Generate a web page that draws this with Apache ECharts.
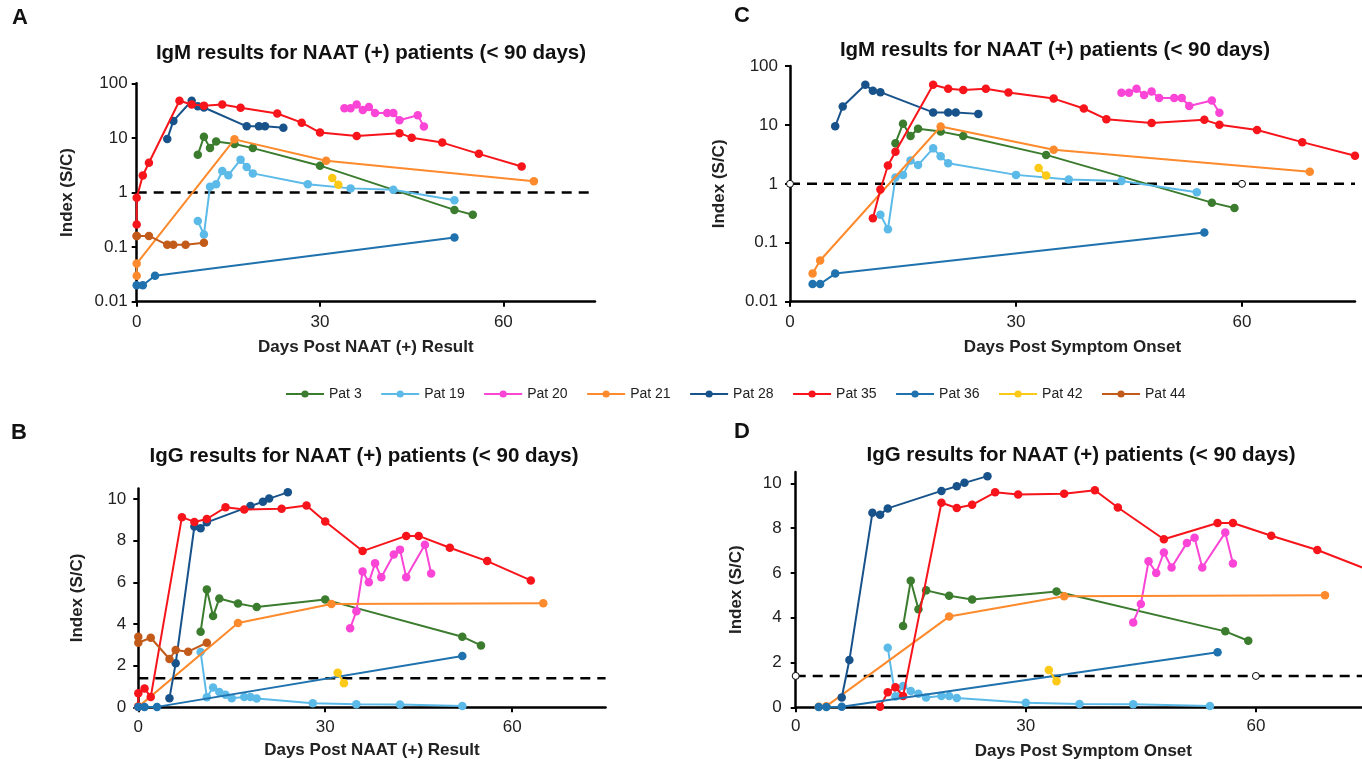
<!DOCTYPE html>
<html>
<head>
<meta charset="utf-8">
<script src="https://cdn.jsdelivr.net/npm/echarts@6/dist/echarts.min.js"></script>
<style>
  html, body { margin: 0; padding: 0; background: #fff; }
  #main { width: 1362px; height: 767px; }
</style>
</head>
<body>
<div id="main"></div>
<script>
// patients shown in the legend
var patNames = ['Pat 3', 'Pat 19', 'Pat 20', 'Pat 21', 'Pat 28', 'Pat 35', 'Pat 36', 'Pat 42', 'Pat 44'];
var patColors = ['#3b7c2e', '#5cbae8', '#fa45d6', '#fd8a2c', '#18528a', '#f7141a', '#1f72ad', '#fcc916', '#c25a1a'];

// days post NAAT (+) result / days post symptom onset / IgM index / IgG index
var naat3 = [10, 11, 12, 13, 16, 19, 30, 52, 55];
var onset3 = [14, 15, 16, 17, 20, 23, 34, 56, 59];
var igm3 = [4.9, 10.5, 6.5, 8.6, 7.7, 6.5, 3.1, 0.48, 0.39];
var igg3 = [3.63, 5.65, 4.38, 5.22, 4.98, 4.81, 5.17, 3.39, 2.97];

var naat19 = [10, 11, 12, 13, 14, 15, 17, 18, 19, 28, 35, 42, 52];
var onset19 = [12, 13, 14, 15, 16, 17, 19, 20, 21, 30, 37, 44, 54];
var igm19 = [0.3, 0.17, 1.28, 1.42, 2.48, 2.08, 4.0, 2.93, 2.24, 1.42, 1.19, 1.12, 0.72];
var igg19 = [2.66, 0.48, 0.95, 0.73, 0.6, 0.44, 0.5, 0.5, 0.42, 0.2, 0.15, 0.14, 0.06];

var naat20 = [34, 35, 36, 37, 38, 39, 41, 42, 43, 46, 47];
var onset20 = [44, 45, 46, 47, 48, 49, 51, 52, 53, 56, 57];
var igm20 = [35, 35, 41, 32.3, 36.8, 28.6, 28.6, 28.6, 21, 26, 16.1];
var igg20 = [3.79, 4.61, 6.52, 6.0, 6.91, 6.24, 7.34, 7.57, 6.24, 7.8, 6.42];

var naat21 = [0, 0, 16, 31, 65];
var onset21 = [3, 4, 20, 35, 69];
var igm21 = [0.03, 0.05, 9.4, 3.8, 1.6];
var igg21 = [0.02, 0.05, 4.05, 4.96, 5.0];

var naat28 = [5, 6, 9, 10, 11, 18, 20, 21, 24];
var onset28 = [6, 7, 10, 11, 12, 19, 21, 22, 25];
var igm28 = [9.5, 20.5, 48, 38, 36, 16.3, 16.3, 16.3, 15.4];
var igg28 = [0.44, 2.11, 8.68, 8.6, 8.88, 9.66, 9.87, 10.02, 10.32];

var naat35 = [0, 0, 1, 2, 7, 9, 11, 14, 17, 23, 27, 30, 36, 43, 45, 50, 56, 63];
var onset35 = [11, 12, 13, 14, 19, 21, 23, 26, 29, 35, 39, 42, 48, 55, 57, 62, 68, 75];
var igm35 = [0.26, 0.8, 2.05, 3.5, 48, 41, 39, 41, 35.5, 28, 19, 12.5, 10.8, 12.2, 10.1, 8.2, 5.1, 3.0];
var igg35 = [0.03, 0.67, 0.9, 0.5, 9.13, 8.9, 9.04, 9.6, 9.5, 9.53, 9.69, 8.92, 7.5, 8.23, 8.23, 7.66, 7.02, 6.09];

var naat36 = [0, 1, 3, 52];
var onset36 = [3, 4, 6, 55];
var igm36 = [0.02, 0.02, 0.03, 0.15];
var igg36 = [0.01, 0.01, 0.02, 2.46];

var naat42 = [32, 33];
var onset42 = [33, 34];
var igm42 = [1.85, 1.38];
var igg42 = [1.66, 1.16];

var naat44 = [0, 0, 2, 5, 6, 8, 11];
var onset44 = null; // no symptom onset date
var igm44 = [0.16, 0.16, 0.16, 0.11, 0.11, 0.11, 0.12];
var igg44 = [3.39, 3.1, 3.34, 2.32, 2.75, 2.67, 3.1];

// cutoffs (dashed lines)
var igmCutoff = 1;
var iggCutoff = 1.4;

var xTicks = [0, 30, 60];
var igmTicks = [0.01, 0.1, 1, 10, 100];
var iggTicks = [0, 2, 4, 6, 8, 10];

var allNaat = [naat3, naat19, naat20, naat21, naat28, naat35, naat36, naat42, naat44];
var allOnset = [onset3, onset19, onset20, onset21, onset28, onset35, onset36, onset42, onset44];
var allIgm = [igm3, igm19, igm20, igm21, igm28, igm35, igm36, igm42, igm44];
var allIgg = [igg3, igg19, igg20, igg21, igg28, igg35, igg36, igg42, igg44];

var FONT = 'Liberation Sans, Arial, sans-serif';

var chart = echarts.init(document.getElementById('main'));

function zip(days, vals) {
    var out = [];
    for (var i = 0; i < days.length; i++) {
        out.push([days[i], vals[i]]);
    }
    return out;
}

function fmtNum(v) {
    return String(parseFloat(Number(v).toPrecision(6)));
}

/* panels: 0 = A, 1 = C, 2 = B, 3 = D */
var panels = [
    { grid: { left: 136.7, top: 83.3, width: 458.3, height: 218.4 }, days: allNaat, vals: allIgm, log: true,
      xName: 'Days Post NAAT (+) Result', xGap: 37, xMargin: 12, yGap: 61, yMargin: 9, cut: igmCutoff, ends: false },
    { grid: { left: 790, top: 66, width: 565, height: 235.7 }, days: allOnset, vals: allIgm, log: true,
      xName: 'Days Post Symptom Onset', xGap: 37, xMargin: 12, yGap: 62, yMargin: 12, cut: igmCutoff, ends: true },
    { grid: { left: 138.3, top: 488.6, width: 467.3, height: 218.7 }, days: allNaat, vals: allIgg, log: false,
      xName: 'Days Post NAAT (+) Result', xGap: 35, xMargin: 12, yGap: 52, yMargin: 12, cut: iggCutoff, ends: false },
    { grid: { left: 795.7, top: 472.1, width: 575.3, height: 235.2 }, days: allOnset, vals: allIgg, log: false,
      xName: 'Days Post Symptom Onset', xGap: 36, xMargin: 11, yGap: 51, yMargin: 14, cut: iggCutoff, ends: true }
];

var grids = [], xAxes = [], yAxes = [], series = [];
var axisLine = { show: true, onZero: false, lineStyle: { color: '#000', width: 2.5 } };

panels.forEach(function (p, gi) {
    grids.push({ left: p.grid.left, top: p.grid.top, width: p.grid.width, height: p.grid.height, containLabel: false, outerBoundsMode: 'none' });
    xAxes.push({
        gridIndex: gi, type: 'value', min: 0, max: 75, interval: 30,
        axisLine: axisLine, axisTick: { show: true, length: 5, lineStyle: { color: '#000', width: 2 }, customValues: xTicks },
        splitLine: { show: false },
        axisLabel: { fontSize: 17, color: '#222', fontFamily: FONT, margin: p.xMargin, customValues: xTicks,
            formatter: function (v) { return v % 30 === 0 ? String(v) : ''; } },
        name: p.xName, nameLocation: 'middle', nameGap: p.xGap,
        nameTextStyle: { fontSize: 17, fontWeight: 'bold', color: '#222', fontFamily: FONT }
    });
    var y = {
        gridIndex: gi,
        axisLine: axisLine,
        splitLine: { show: false },
        axisLabel: { fontSize: 17, color: '#222', fontFamily: FONT, margin: p.yMargin, formatter: fmtNum },
        name: 'Index (S/C)', nameLocation: 'middle', nameGap: p.yGap, nameRotate: 90,
        nameTextStyle: { fontSize: 17, fontWeight: 'bold', color: '#222', fontFamily: FONT }
    };
    if (p.log) {
        y.type = 'log'; y.logBase = 10; y.min = 0.01; y.max = 100;
        y.axisLabel.customValues = igmTicks;
        y.axisTick = { show: true, length: 5, lineStyle: { color: '#000', width: 2 }, customValues: igmTicks };
    } else {
        y.type = 'value'; y.min = 0; y.max = 10.5; y.interval = 2;
        y.axisLabel.customValues = iggTicks;
        y.axisTick = { show: true, length: 5, lineStyle: { color: '#000', width: 2 }, customValues: iggTicks };
    }
    yAxes.push(y);

    // dashed cutoff line
    var cutData = [
        { value: [0, p.cut] },
        { value: [60, p.cut] },
        { value: [75, p.cut], symbol: 'none' }
    ];
    series.push({
        name: 'cutoff' + gi, type: 'line', xAxisIndex: gi, yAxisIndex: gi,
        data: cutData, silent: true, z: 1,
        showSymbol: p.ends, symbol: 'circle', symbolSize: 7,
        itemStyle: { color: '#fff', borderColor: '#000', borderWidth: 1 },
        lineStyle: { color: '#000', width: 2.5, type: [10, 7] }
    });

    patNames.forEach(function (name, k) {
        if (!p.days[k]) return;
        series.push({
            name: name, type: 'line', xAxisIndex: gi, yAxisIndex: gi,
            data: zip(p.days[k], p.vals[k]),
            symbol: 'circle', symbolSize: 8.5, showAllSymbol: true,
            itemStyle: { color: patColors[k] },
            lineStyle: { color: patColors[k], width: 2 },
            z: 2 + k
        });
    });
});

var titleStyle = { fontSize: 20.5, fontWeight: 'bold', color: '#111', fontFamily: FONT };
var letterStyle = { fontSize: 22, fontWeight: 'bold', color: '#111', fontFamily: FONT };

var option = {
    backgroundColor: '#fff',
    animation: false,
    title: [
        { text: 'IgM results for NAAT (+) patients (< 90 days)', left: 371, top: 43, textAlign: 'center', padding: 0, textStyle: titleStyle },
        { text: 'IgM results for NAAT (+) patients (< 90 days)', left: 1055, top: 40, textAlign: 'center', padding: 0, textStyle: titleStyle },
        { text: 'IgG results for NAAT (+) patients (< 90 days)', left: 364, top: 446, textAlign: 'center', padding: 0, textStyle: titleStyle },
        { text: 'IgG results for NAAT (+) patients (< 90 days)', left: 1081, top: 445, textAlign: 'center', padding: 0, textStyle: titleStyle },
        { text: 'A', left: 12, top: 7, padding: 0, textStyle: letterStyle },
        { text: 'B', left: 11, top: 422, padding: 0, textStyle: letterStyle },
        { text: 'C', left: 734, top: 5, padding: 0, textStyle: letterStyle },
        { text: 'D', left: 734, top: 421, padding: 0, textStyle: letterStyle }
    ],
    legend: {
        data: patNames,
        left: 285, top: 387,
        itemWidth: 38, itemHeight: 9, itemGap: 18.5, padding: 0,
        textStyle: { fontSize: 14, color: '#222', fontFamily: FONT }
    },
    grid: grids,
    xAxis: xAxes,
    yAxis: yAxes,
    series: series
};

chart.setOption(option);
</script>
</body>
</html>
